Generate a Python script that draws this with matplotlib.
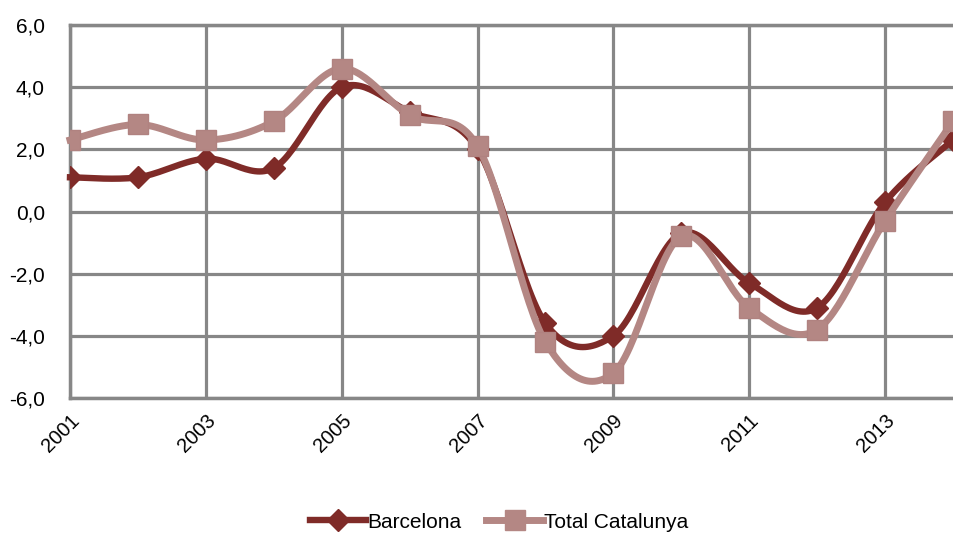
import numpy as np
import matplotlib
matplotlib.use("Agg")
import matplotlib.pyplot as plt
from matplotlib.lines import Line2D

plt.rcParams['font.family'] = ['Liberation Sans', 'DejaVu Sans']

years = list(range(2001, 2015))
barcelona = [1.1, 1.1, 1.7, 1.4, 4.0, 3.2, 2.0, -3.6, -4.0, -0.7, -2.3, -3.1, 0.3, 2.3]
catalunya = [2.3, 2.8, 2.3, 2.9, 4.6, 3.1, 2.1, -4.2, -5.2, -0.8, -3.1, -3.8, -0.3, 2.9]
x_ticks = [2001, 2003, 2005, 2007, 2009, 2011, 2013]
y_ticks = [-6, -4, -2, 0, 2, 4, 6]

c_bcn = '#7F2B28'
c_cat = '#B48784'
grid_c = '#878787'


def smooth(xs, ys, n=30):
    """Bezier smoothing through each point (Catmull-Rom style)."""
    xs = np.asarray(xs, float)
    ys = np.asarray(ys, float)
    pts = np.column_stack([xs, ys])
    out = []
    for i in range(len(pts) - 1):
        p0 = pts[max(i - 1, 0)]
        p1 = pts[i]
        p2 = pts[i + 1]
        p3 = pts[min(i + 2, len(pts) - 1)]
        c1 = p1 + (p2 - p0) / 6.0
        c2 = p2 - (p3 - p1) / 6.0
        t = np.linspace(0, 1, n)[:, None]
        seg = ((1 - t) ** 3) * p1 + 3 * ((1 - t) ** 2) * t * c1 + 3 * (1 - t) * t ** 2 * c2 + t ** 3 * p2
        out.append(seg if i == 0 else seg[1:])
    seg = np.vstack(out)
    return seg[:, 0], seg[:, 1]


fig = plt.figure(figsize=(9.54, 5.34), dpi=100)
ax = fig.add_axes([70 / 954, 1 - 398 / 534, (953 - 70) / 954, (398 - 25) / 534])

ax.set_xlim(2001, 2014)
ax.set_ylim(-6, 6)
ax.set_xticks(x_ticks)
ax.set_yticks(y_ticks)
ax.set_yticklabels([f"{v:.1f}".replace('.', ',') for v in y_ticks], fontsize=15)
ax.set_xticklabels([str(v) for v in x_ticks], fontsize=14.5, rotation=45,
                   ha='right', va='top', rotation_mode='anchor')
ax.tick_params(axis='y', length=0, pad=18)
ax.tick_params(axis='x', length=0, pad=9)

ax.grid(True, color=grid_c, linewidth=2.3)
for side in ['left', 'bottom', 'top']:
    ax.spines[side].set_color(grid_c)
    ax.spines[side].set_linewidth(2.5)
ax.spines['right'].set_visible(False)
ax.set_axisbelow(True)

sx, sy = smooth(years, barcelona)
ax.plot(sx, sy, color=c_bcn, linewidth=4.6, zorder=3, clip_on=False)
ax.plot(years, barcelona, linestyle='none', marker='D', markersize=11,
        color=c_bcn, zorder=4, clip_on=True)

sx, sy = smooth(years, catalunya)
ax.plot(sx, sy, color=c_cat, linewidth=5.0, zorder=5, clip_on=False)
ax.plot(years, catalunya, linestyle='none', marker='s', markersize=14.5,
        color=c_cat, markeredgecolor='#B08280', zorder=6, clip_on=True)

handles = [
    Line2D([], [], color=c_bcn, linewidth=4.6, marker='D', markersize=11),
    Line2D([], [], color=c_cat, linewidth=5.0, marker='s', markersize=14.5),
]
fig.legend(handles, ['Barcelona', 'Total Catalunya'], loc='center',
           bbox_to_anchor=(0.523, 0.022), ncol=2, frameon=False, fontsize=15,
           handlelength=2.7, handletextpad=0.05, columnspacing=1.2)

fig.savefig('out.png', dpi=100)
